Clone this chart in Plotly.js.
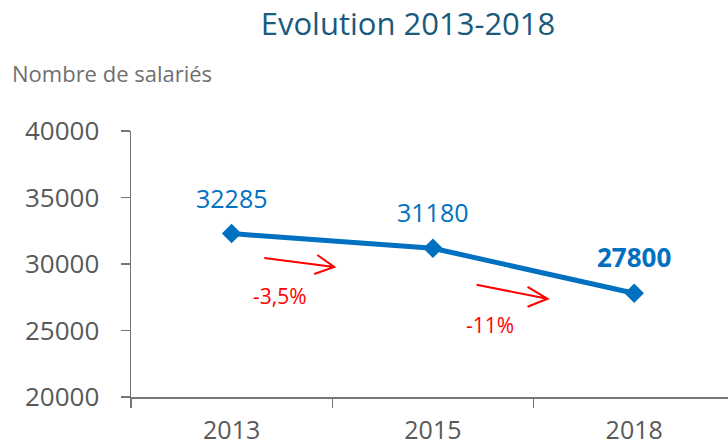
<!DOCTYPE html>
<html>
<head>
<meta charset="utf-8">
<script src="https://cdn.plot.ly/plotly-3.0.1.min.js"></script>
<style>
  html, body { margin: 0; padding: 0; background: #fff; }
  #chart { width: 728px; height: 447px; }
</style>
</head>
<body>
<div id="chart"></div>
<script>
// values
const years = ['2013', '2015', '2018'];
const salaries = [32285, 31180, 27800];
const changes = ['-3,5%', '-11%'];

const blue = '#0070C0';
const red = '#FF0000';
const grey = '#595959';
const font = 'Open Sans, sans-serif';

// data labels above each point, the last one bold
// (category index as x: a year string would be read as a number)
const labelNotes = years.map((y, i) => ({
  x: i, y: salaries[i], xref: 'x', yref: 'y',
  text: i === years.length - 1 ? `<b>${salaries[i]}</b>` : String(salaries[i]),
  showarrow: false, yshift: 36,
  font: {family: font, size: i === years.length - 1 ? 26 : 25, color: blue},
}));

// red arrows + % change under each segment (pixel offsets from segment midpoint)
const arrowPaths = [
  'M-68,-17L2,-26M-15,-14L2,-26L-18,-33',
  'M-57,-14L14,-28M-6,-16L14,-28L-6,-36',
];
const changeShift = [[-52, -55], [-44, -54]];

const arrowShapes = changes.map((c, i) => ({
  type: 'path', xref: 'x', yref: 'y',
  xsizemode: 'pixel', ysizemode: 'pixel',
  xanchor: i + 0.5, yanchor: (salaries[i] + salaries[i + 1]) / 2,
  path: arrowPaths[i],
  line: {color: red, width: 2},
}));

const changeNotes = changes.map((c, i) => ({
  x: i + 0.5, y: (salaries[i] + salaries[i + 1]) / 2, xref: 'x', yref: 'y',
  text: c, showarrow: false,
  xshift: changeShift[i][0], yshift: changeShift[i][1],
  font: {family: font, size: 21, color: red},
}));

Plotly.newPlot('chart', [{
  x: years, y: salaries, type: 'scatter', mode: 'lines+markers',
  line: {color: blue, width: 5},
  marker: {symbol: 'diamond', size: 15, color: blue},
  hoverinfo: 'skip',
}], {
  width: 728, height: 447,
  margin: {l: 131, r: 0, t: 131, b: 50, pad: 0},
  paper_bgcolor: '#fff', plot_bgcolor: '#fff',
  showlegend: false,
  font: {family: font, color: grey},
  title: {
    text: 'Evolution 2013-2018',
    font: {family: font, size: 31, color: '#1A5A7C'},
    x: 408 / 728, xanchor: 'center', xref: 'container',
    y: 1 - 24 / 447, yanchor: 'middle', yref: 'container',
  },
  xaxis: {
    type: 'category', range: [-0.5, 2.466],
    showline: true, linecolor: '#767676', linewidth: 1.5,
    ticks: 'outside', tickson: 'boundaries', ticklen: 9, tickcolor: '#767676', tickwidth: 1.5,
    showgrid: false, zeroline: false,
    ticklabelstandoff: 10,
    tickfont: {family: font, size: 25, color: grey},
  },
  yaxis: {
    range: [20000, 40000], dtick: 5000, tickformat: 'd',
    showline: true, linecolor: '#767676', linewidth: 1.5,
    ticks: 'outside', ticklen: 9, tickcolor: '#767676', tickwidth: 1.5,
    showgrid: false, zeroline: false,
    ticklabelstandoff: 16,
    tickfont: {family: font, size: 26, color: grey},
  },
  shapes: arrowShapes,
  annotations: [
    {
      xref: 'paper', yref: 'paper', x: (10 - 131) / 597, y: (397 - 73) / 266,
      xanchor: 'left', yanchor: 'middle', showarrow: false,
      text: 'Nombre de salariés',
      font: {family: font, size: 22, color: '#6F6F6F'},
    },
    ...labelNotes,
    ...changeNotes,
  ],
}, {staticPlot: true});
</script>
</body>
</html>
